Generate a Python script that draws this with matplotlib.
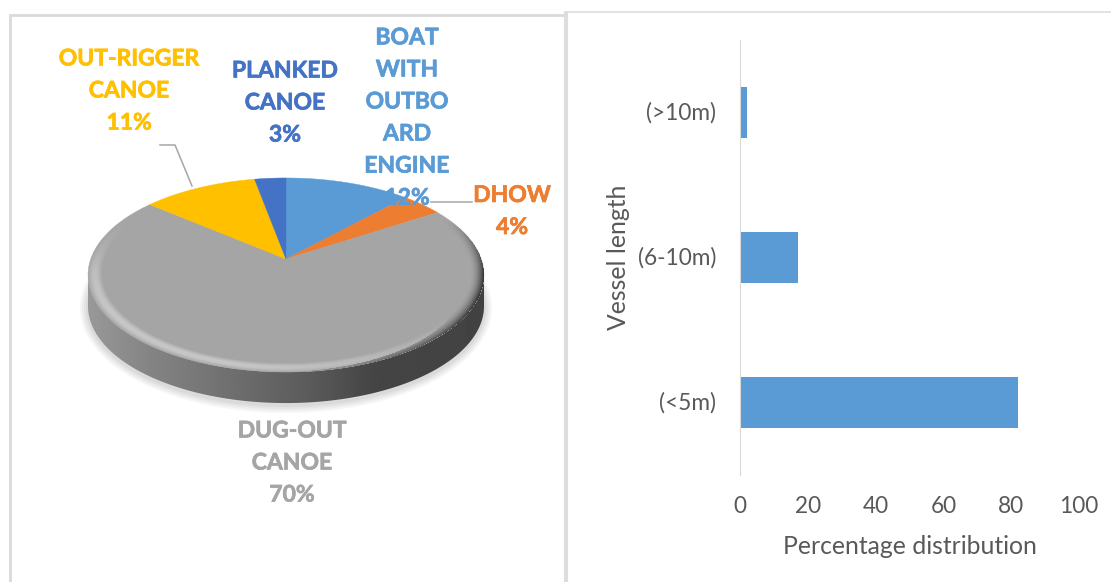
import numpy as np
import matplotlib
matplotlib.use('Agg')
import matplotlib.pyplot as plt
import matplotlib.patheffects as pe
from matplotlib.patches import Ellipse, Polygon, Rectangle

plt.rcParams['font.family'] = ['Lato', 'DejaVu Sans']

# left chart
pie_names = ['BOAT\nWITH\nOUTBO\nARD\nENGINE', 'DHOW', 'DUG-OUT\nCANOE', 'OUT-RIGGER\nCANOE', 'PLANKED\nCANOE']
pie_values = [12, 4, 70, 11, 3]
pie_colors = ['#5B9BD5', '#ED7D31', '#A5A5A5', '#FFC000', '#4472C4']

# right chart
vessel_lengths = ['(<5m)', '(6-10m)', '(>10m)']
vessel_share = [82, 17, 2]

W, H = 1111, 582
fig = plt.figure(figsize=(W / 100, H / 100), dpi=100)
bg = fig.add_axes([0, 0, 1, 1])

# perspective view of the pie, the apex sits above the middle of the ellipse
cx, apex_y = 286, 259
A, B, k = 195.3, 94.4, 0.165
depth = 31


def rim(deg):
    t = np.radians(deg)
    X, Y = np.sin(t), np.cos(t)
    w = 1 + k * Y
    return cx + A * X / w, apex_y - B * Y / w


# panel borders
bg.add_patch(Rectangle((10, 15), 555, 600, fc='white', ec='#D9D9D9', lw=2))
bg.plot([566, 566], [11, H], color='#DDDDDD', lw=3, solid_capstyle='butt')
bg.plot([566, W], [11.5, 11.5], color='#DDDDDD', lw=1.2)

# soft shadow
for grow, a in [(6, 0.10), (4, 0.12), (2, 0.14), (0, 0.18)]:
    bg.add_patch(Ellipse((286, 308), 2 * (200 + grow), 2 * (99 + grow), fc='#B0B0B0', ec='none', alpha=a, zorder=1))

# side of the disc
t_side = np.degrees(np.arccos(-k))
ts = np.linspace(t_side, 360 - t_side, 200)
sx, sy = rim(ts)
side_pts = np.vstack([np.c_[sx, sy], np.c_[sx[::-1], sy[::-1] + depth]])
side_clip = Polygon(side_pts, closed=True, fc='none', ec='none', zorder=2)
bg.add_patch(side_clip)
grad = np.interp(np.linspace(0, 1, 400), [0, 0.15, 0.55, 0.72, 1], [0.60, 0.52, 0.36, 0.27, 0.26])
side_img = bg.imshow(grad[None, :], extent=[88, 485, 420, 250], cmap='gray', vmin=0, vmax=1, aspect='auto', zorder=2)
side_img.set_clip_path(side_clip)

# slices, built from the values
edges = np.cumsum([0] + pie_values) / sum(pie_values) * 360
for i, col in enumerate(pie_colors):
    ts = np.linspace(edges[i], edges[i + 1], 80)
    x, y = rim(ts)
    bg.add_patch(Polygon(np.vstack([[cx, apex_y], np.c_[x, y]]), closed=True, fc=col, ec=col, lw=0.3, zorder=3))

# bevel round the rim, soft light on the lower left, dark on the right
yy, xx = np.mgrid[170:380, 80:495]
u = (xx + 0.5 - cx) / A
v = (apex_y - yy - 0.5) / B
X, Y = u / (1 - k * v), v / (1 - k * v)
r = np.hypot(X, Y)
edge = np.clip((r - 0.93) / 0.07, 0, 1)
fade = np.clip((0.45 - Y) / 0.6, 0, 1)
light = np.clip(-0.6 * X - 0.8 * Y + 0.1, 0, 1) * np.sin(edge * np.pi) * 0.38
dark = np.clip(X * 1.1, 0, 1) * edge ** 2 * 0.7
rgba = np.zeros(r.shape + (4,))
rgba[..., :3] = (light > dark)[..., None] * 1.0
rgba[..., 3] = np.maximum(light, dark) * fade * (r <= 1)
bg.imshow(rgba, extent=[80, 495, 380, 170], aspect='auto', zorder=4, interpolation='bilinear')

# leader lines
bg.plot([160, 175, 192], [145, 145, 186], color='#A6A6A6', lw=1.1, zorder=5)
bg.plot([431, 472], [202, 202], color='#A6A6A6', lw=1.1, zorder=5)

# data labels, the stroke makes the bold as heavy as in the original
label_pos = [(407, 118), (512, 211.5), (292, 463), (129, 91), (285, 103)]
for name, val, col, (lx, ly) in zip(pie_names, pie_values, pie_colors, label_pos):
    bg.text(lx, ly, f'{name}\n{val}%', color=col, fontsize=16.5, fontweight='bold', ha='center', va='center',
            linespacing=1.65, zorder=6, path_effects=[pe.withStroke(linewidth=0.5, foreground=col)])

bg.set_xlim(0, W)
bg.set_ylim(H, 0)
bg.axis('off')

# bar chart
ax = fig.add_axes([740 / W, 1 - 475 / H, 339 / W, 435 / H])
ypos = np.arange(len(vessel_lengths))
ax.barh(ypos, vessel_share, height=0.35, color='#5B9BD5')
ax.set_xlim(0, 100)
ax.set_ylim(-0.5, 2.5)
ax.set_yticks(ypos, vessel_lengths)
ax.set_xticks([0, 20, 40, 60, 80, 100])
ax.tick_params(length=0, labelsize=16.3, labelcolor='#595959', pad=15)
ax.tick_params(axis='y', pad=17)
for lab in ax.get_yticklabels():
    lab.set_va('center')
ax.set_xlabel('Percentage distribution', fontsize=17.8, color='#595959', labelpad=13)
ax.set_ylabel('Vessel length', fontsize=17.8, color='#595959', labelpad=6)
for s in ['top', 'right', 'bottom']:
    ax.spines[s].set_visible(False)
ax.spines['left'].set_color('#D9D9D9')
ax.patch.set_alpha(0)

fig.savefig('out.png', dpi=100)
